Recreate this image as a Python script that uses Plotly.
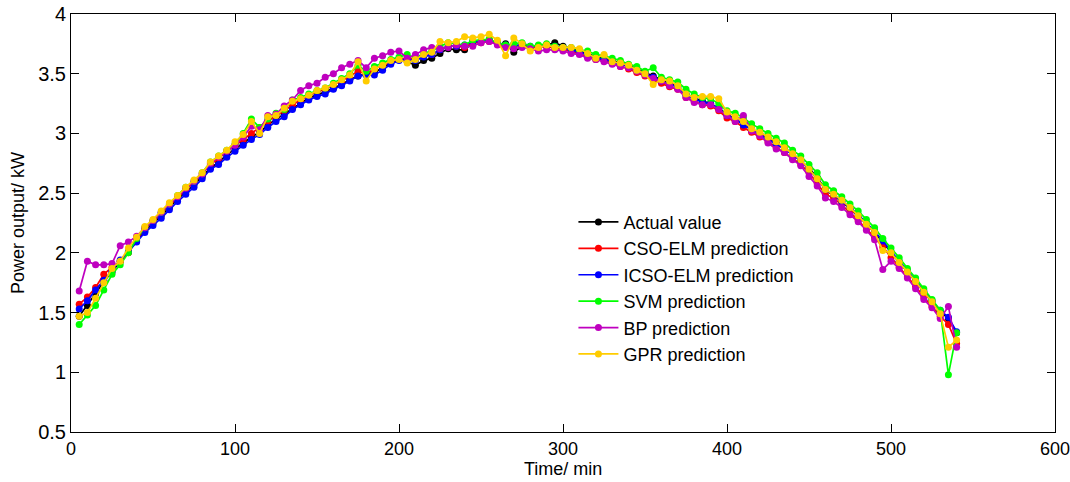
import plotly.graph_objects as go

# --- time axis (min) ---
time_min = list(range(5, 545, 5))

# --- series values (kW) ---
actual = [
    1.47, 1.56, 1.66, 1.76, 1.84, 1.93, 2.01, 2.10, 2.18, 2.25,
    2.31, 2.38, 2.45, 2.51, 2.57, 2.64, 2.71, 2.76, 2.82, 2.87,
    2.92, 2.97, 3.01, 3.07, 3.12, 3.16, 3.21, 3.25, 3.30, 3.32,
    3.35, 3.38, 3.41, 3.45, 3.48, 3.50, 3.51, 3.55, 3.59, 3.62,
    3.60, 3.57, 3.61, 3.63, 3.67, 3.71, 3.70, 3.70, 3.76, 3.77,
    3.78, 3.75, 3.75, 3.68, 3.73, 3.72, 3.73, 3.74, 3.76, 3.73,
    3.71, 3.69, 3.67, 3.64, 3.63, 3.61, 3.59, 3.57, 3.54, 3.51,
    3.48, 3.45, 3.42, 3.39, 3.33, 3.30, 3.27, 3.25, 3.21, 3.16,
    3.12, 3.08, 3.04, 3.00, 2.96, 2.92, 2.88, 2.83, 2.77, 2.71,
    2.63, 2.53, 2.48, 2.43, 2.37, 2.31, 2.24, 2.17, 2.09, 2.00,
    1.92, 1.84, 1.76, 1.67, 1.59, 1.51, 1.45, 1.33,
]
cso_elm = [
    1.57, 1.63, 1.71, 1.82, 1.88, 1.93, 2.00, 2.11, 2.20, 2.26,
    2.33, 2.40, 2.46, 2.53, 2.59, 2.66, 2.74, 2.79, 2.85, 2.90,
    2.95, 3.00, 3.05, 3.10, 3.15, 3.19, 3.24, 3.28, 3.32, 3.35,
    3.37, 3.41, 3.44, 3.48, 3.52, 3.50, 3.54, 3.57, 3.60, 3.62,
    3.63, 3.62, 3.65, 3.66, 3.70, 3.73, 3.73, 3.72, 3.76, 3.76,
    3.77, 3.75, 3.73, 3.73, 3.74, 3.72, 3.72, 3.73, 3.71, 3.71,
    3.68, 3.67, 3.64, 3.62, 3.61, 3.59, 3.56, 3.54, 3.51, 3.48,
    3.45, 3.42, 3.39, 3.37, 3.30, 3.27, 3.24, 3.23, 3.19, 3.13,
    3.10, 3.05, 3.01, 2.97, 2.93, 2.88, 2.84, 2.79, 2.74, 2.67,
    2.58, 2.49, 2.46, 2.40, 2.34, 2.27, 2.20, 2.13, 2.05, 1.96,
    1.88, 1.80, 1.72, 1.63, 1.55, 1.47, 1.40, 1.24,
]
icso_elm = [
    1.53, 1.60, 1.69, 1.77, 1.85, 1.94, 2.01, 2.09, 2.17, 2.23,
    2.29, 2.36, 2.43, 2.49, 2.55, 2.62, 2.70, 2.74, 2.80, 2.85,
    2.90, 2.95, 2.99, 3.05, 3.10, 3.14, 3.20, 3.24, 3.28, 3.31,
    3.33, 3.37, 3.40, 3.44, 3.48, 3.49, 3.49, 3.53, 3.58, 3.61,
    3.62, 3.61, 3.64, 3.66, 3.70, 3.73, 3.73, 3.74, 3.77, 3.77,
    3.78, 3.76, 3.74, 3.73, 3.75, 3.73, 3.73, 3.74, 3.73, 3.72,
    3.70, 3.68, 3.66, 3.63, 3.62, 3.60, 3.58, 3.56, 3.53, 3.50,
    3.47, 3.44, 3.41, 3.39, 3.32, 3.29, 3.26, 3.25, 3.21, 3.15,
    3.12, 3.07, 3.03, 2.99, 2.95, 2.91, 2.87, 2.82, 2.77, 2.70,
    2.62, 2.53, 2.49, 2.43, 2.38, 2.32, 2.25, 2.18, 2.10, 2.01,
    1.93, 1.85, 1.77, 1.68, 1.60, 1.52, 1.46, 1.34,
]
svm = [
    1.40, 1.48, 1.56, 1.69, 1.82, 1.90, 2.00, 2.12, 2.21, 2.27,
    2.34, 2.41, 2.48, 2.55, 2.60, 2.67, 2.76, 2.81, 2.86, 2.91,
    3.00, 3.12, 3.05, 3.12, 3.17, 3.20, 3.28, 3.30, 3.33, 3.36,
    3.38, 3.42, 3.46, 3.50, 3.57, 3.52, 3.56, 3.59, 3.62, 3.64,
    3.66, 3.63, 3.67, 3.69, 3.73, 3.76, 3.75, 3.74, 3.78, 3.78,
    3.79, 3.76, 3.74, 3.75, 3.76, 3.73, 3.74, 3.75, 3.73, 3.72,
    3.72, 3.70, 3.69, 3.66, 3.65, 3.63, 3.61, 3.58, 3.56, 3.52,
    3.55, 3.47, 3.45, 3.43, 3.37, 3.33, 3.30, 3.29, 3.25, 3.19,
    3.17, 3.13, 3.08, 3.04, 3.00, 2.96, 2.92, 2.86, 2.81, 2.74,
    2.67, 2.57, 2.52, 2.47, 2.41, 2.35, 2.28, 2.21, 2.12, 2.04,
    1.96, 1.87, 1.79, 1.70, 1.61, 1.52, 0.98, 1.33,
]
bp = [
    1.68, 1.93, 1.90, 1.90, 1.91, 2.06, 2.09, 2.14, 2.21, 2.27,
    2.34, 2.41, 2.47, 2.54, 2.60, 2.66, 2.75, 2.80, 2.85, 2.90,
    2.97, 3.06, 3.03, 3.15, 3.16, 3.23, 3.28, 3.36, 3.40, 3.42,
    3.47, 3.50, 3.55, 3.58, 3.61, 3.55, 3.63, 3.65, 3.68, 3.69,
    3.63, 3.66, 3.70, 3.72, 3.71, 3.72, 3.74, 3.73, 3.73, 3.76,
    3.77, 3.74, 3.72, 3.71, 3.72, 3.71, 3.69, 3.70, 3.70, 3.69,
    3.67, 3.66, 3.63, 3.62, 3.60, 3.58, 3.56, 3.55, 3.52, 3.49,
    3.46, 3.44, 3.40, 3.37, 3.30, 3.26, 3.24, 3.24, 3.20, 3.15,
    3.10, 3.15, 3.02, 2.98, 2.92, 2.87, 2.84, 2.78, 2.73, 2.64,
    2.56, 2.46, 2.43, 2.38, 2.32, 2.26, 2.19, 2.11, 1.86, 1.93,
    1.87, 1.79, 1.70, 1.61, 1.54, 1.45, 1.55, 1.21,
]
gpr = [
    1.47, 1.50, 1.62, 1.75, 1.87, 1.93, 2.04, 2.13, 2.22, 2.28,
    2.35, 2.42, 2.48, 2.55, 2.61, 2.67, 2.76, 2.81, 2.86, 2.93,
    2.99, 3.10, 3.00, 3.14, 3.15, 3.21, 3.27, 3.29, 3.32, 3.36,
    3.38, 3.41, 3.45, 3.49, 3.60, 3.44, 3.54, 3.57, 3.61, 3.62,
    3.59, 3.62, 3.66, 3.68, 3.77, 3.76, 3.77, 3.81, 3.80, 3.81,
    3.83, 3.78, 3.65, 3.80, 3.75, 3.69, 3.72, 3.74, 3.72, 3.72,
    3.72, 3.71, 3.67, 3.63, 3.66, 3.60, 3.59, 3.57, 3.53, 3.50,
    3.41, 3.45, 3.44, 3.40, 3.33, 3.30, 3.31, 3.31, 3.29, 3.18,
    3.14, 3.10, 3.04, 3.01, 2.97, 2.93, 2.88, 2.83, 2.78, 2.70,
    2.62, 2.53, 2.49, 2.44, 2.38, 2.31, 2.24, 2.17, 2.02, 2.00,
    1.92, 1.84, 1.76, 1.67, 1.59, 1.49, 1.21, 1.27,
]

series = [
    ("Actual value", actual, "#000000"),
    ("CSO-ELM prediction", cso_elm, "#FF0000"),
    ("ICSO-ELM prediction", icso_elm, "#0000FF"),
    ("SVM prediction", svm, "#00FF00"),
    ("BP prediction", bp, "#BF00BF"),
    ("GPR prediction", gpr, "#FFCC00"),
]

fig = go.Figure()
for name, vals, color in series:
    fig.add_trace(go.Scatter(
        x=time_min,
        y=vals,
        mode="lines+markers",
        name=name,
        line=dict(color=color, width=1.7),
        marker=dict(color=color, size=7),
    ))

axis_common = dict(
    showline=True,
    linecolor="black",
    linewidth=1,
    mirror="ticks",
    ticks="inside",
    ticklen=8,
    tickcolor="black",
    showgrid=False,
    zeroline=False,
    automargin=False,
)

font_family = "Liberation Sans, Arial, sans-serif"

fig.update_xaxes(
    range=[0, 600],
    tickvals=[0, 100, 200, 300, 400, 500, 600],
    tickfont=dict(family=font_family, size=18, color="black"),
    ticklabeloverflow="allow",
    **axis_common,
)
fig.update_yaxes(
    range=[0.5, 4],
    tickvals=[0.5, 1, 1.5, 2, 2.5, 3, 3.5, 4],
    ticktext=["0.5", "1", "1.5", "2", "2.5", "3", "3.5", "4"],
    tickfont=dict(family=font_family, size=20, color="black"),
    title=dict(text="Power output/ kW", standoff=8,
               font=dict(family=font_family, size=18, color="black")),
    **axis_common,
)

# x-axis title as a paper annotation so it sits just under the tick labels
fig.add_annotation(
    text="Time/ min", xref="paper", yref="paper",
    x=0.5, y=-0.088, xanchor="center", yanchor="middle",
    showarrow=False,
    font=dict(family=font_family, size=18, color="black"),
)

fig.update_layout(
    width=1070,
    height=482,
    margin=dict(l=71, r=15, t=14, b=50),
    paper_bgcolor="white",
    plot_bgcolor="white",
    showlegend=True,
    legend=dict(
        x=0.5106, y=0.546, xanchor="left", yanchor="top",
        bgcolor="rgba(255,255,255,0)",
        font=dict(family=font_family, size=18, color="black"),
        tracegroupgap=0,
        itemwidth=40,
    ),
)

fig.write_html(
    "out.html",
    config={"displayModeBar": False},
    post_script="document.body.style.margin='0';",
)
